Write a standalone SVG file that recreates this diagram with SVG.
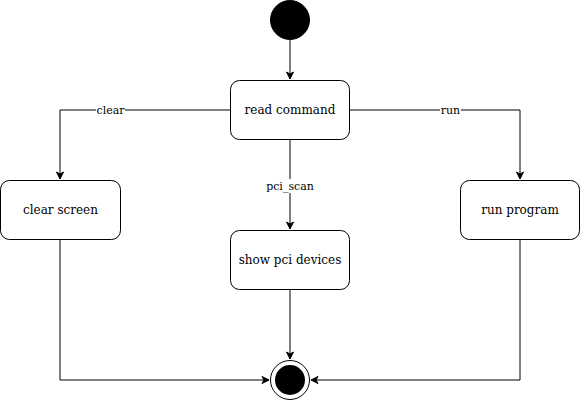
<svg xmlns="http://www.w3.org/2000/svg" width="581" height="401" viewBox="0 0 581 401">
<style>
.n{fill:#fff;stroke:#000;stroke-width:1}
.t{font-family:"DejaVu Serif","Liberation Serif",serif;font-size:12px;fill:#000;text-anchor:middle;dominant-baseline:central}
.l{font-family:"DejaVu Serif","Liberation Serif",serif;font-size:11px;fill:#000;text-anchor:middle;dominant-baseline:central}
.e{fill:none;stroke:#000;stroke-width:1}
</style>
<defs>
<marker id="a" markerWidth="10" markerHeight="10" refX="8" refY="5" orient="auto" markerUnits="userSpaceOnUse">
<path d="M1,1.5 L8,5 L1,8.5 L3,5 Z" fill="#000" stroke="#000" stroke-width="1"/>
</marker>
</defs>
<rect width="581" height="401" fill="#fff"/>
<g id="edges">
<path class="e" d="M290,40 V79" marker-end="url(#a)"/>
<path class="e" d="M230,110 H60 V179" marker-end="url(#a)"/>
<path class="e" d="M350,110 H520 V179" marker-end="url(#a)"/>
<path class="e" d="M290,140 V229" marker-end="url(#a)"/>
<path class="e" d="M60,240 V380 H269" marker-end="url(#a)"/>
<path class="e" d="M290,290 V359" marker-end="url(#a)"/>
<path class="e" d="M520,240 V380 H311" marker-end="url(#a)"/>
<rect x="96" y="104" width="29" height="13" fill="#fff"/>
<text class="l" x="110.5" y="110.5">clear</text>
<rect x="440" y="104" width="21" height="13" fill="#fff"/>
<text class="l" x="450.5" y="110.5">run</text>
<rect x="265" y="179" width="50" height="14" fill="#fff"/>
<text class="l" x="290" y="186">pci_scan</text>
</g>
<g id="start"><circle cx="290" cy="20" r="19.5" fill="#000" stroke="#000"/></g>
<g id="read"><rect class="n" x="230.5" y="80.5" width="119" height="59" rx="9"/><text class="t" x="290" y="110">read command</text></g>
<g id="clear"><rect class="n" x="0.5" y="180.5" width="120" height="59" rx="9"/><text class="t" x="60.5" y="210">clear screen</text></g>
<g id="pci"><rect class="n" x="230.5" y="230.5" width="119" height="59" rx="9"/><text class="t" x="290" y="260">show pci devices</text></g>
<g id="run"><rect class="n" x="460.5" y="180.5" width="119" height="59" rx="9"/><text class="t" x="520" y="210">run program</text></g>
<g id="end"><circle cx="290" cy="380" r="19.5" fill="#fff" stroke="#000"/><circle cx="290" cy="380" r="15" fill="#000"/></g>
</svg>
